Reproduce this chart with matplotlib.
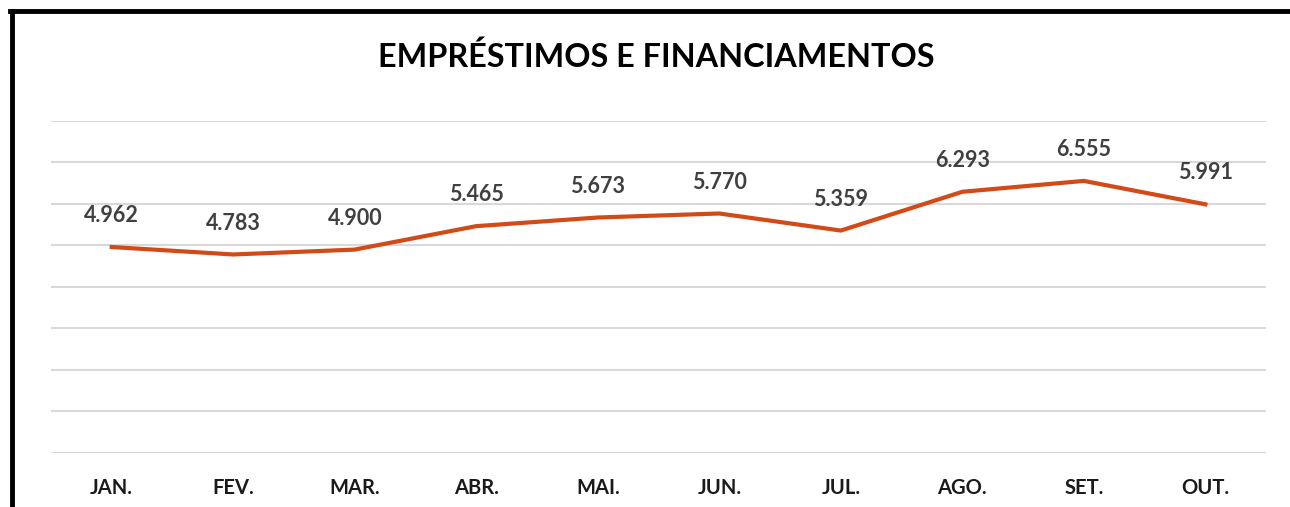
import matplotlib.pyplot as plt
from matplotlib.lines import Line2D

months = ["JAN.", "FEV.", "MAR.", "ABR.", "MAI.", "JUN.", "JUL.", "AGO.", "SET.", "OUT."]
values = [4.962, 4.783, 4.900, 5.465, 5.673, 5.770, 5.359, 6.293, 6.555, 5.991]
labels = ["4.962", "4.783", "4.900", "5.465", "5.673", "5.770", "5.359", "6.293", "6.555", "5.991"]

line_color = "#D24A17"
grid_color = "#D9D9D9"
label_color = "#404040"

plt.rcParams["font.family"] = ["Lato", "DejaVu Sans"]

fig = plt.figure(figsize=(12.9, 5.07), dpi=100)
ax = fig.add_axes([0.0395, 0.1065, 0.942, 0.655])

x = list(range(len(months)))
ax.plot(x, values, color=line_color, linewidth=3, solid_joinstyle="miter")

# data labels above each point
for xi, v, lab in zip(x, values, labels):
    ax.annotate(lab, (xi, v), xytext=(0, 15), textcoords="offset points",
                ha="center", va="bottom", fontsize=15.5, fontweight="bold",
                color=label_color)

ax.set_xlim(-0.5, len(months) - 0.5)
ax.set_ylim(0, 8)
ax.set_yticks(range(0, 9))
ax.yaxis.grid(True, color=grid_color, linewidth=1.5)
ax.set_axisbelow(True)
ax.tick_params(axis="y", left=False, labelleft=False)
ax.tick_params(axis="x", length=0, pad=18)
ax.set_xticks(x)
ax.set_xticklabels(months, fontsize=14.5, fontweight="bold", color="#1A1A1A")
for side in ["top", "right", "left", "bottom"]:
    ax.spines[side].set_visible(False)

fig.text(0.5085, 0.888, "EMPRÉSTIMOS E FINANCIAMENTOS", ha="center", va="center",
         fontsize=23.3, fontweight="bold", color="black")

# black frame lines at top and left
fig.add_artist(Line2D([0.008, 1.0], [0.978, 0.978], color="black", linewidth=3.5,
                      transform=fig.transFigure))
fig.add_artist(Line2D([0.0093, 0.0093], [0.0, 0.978], color="black", linewidth=3.5,
                      transform=fig.transFigure))

fig.savefig("out.png", dpi=100)
plt.close(fig)
